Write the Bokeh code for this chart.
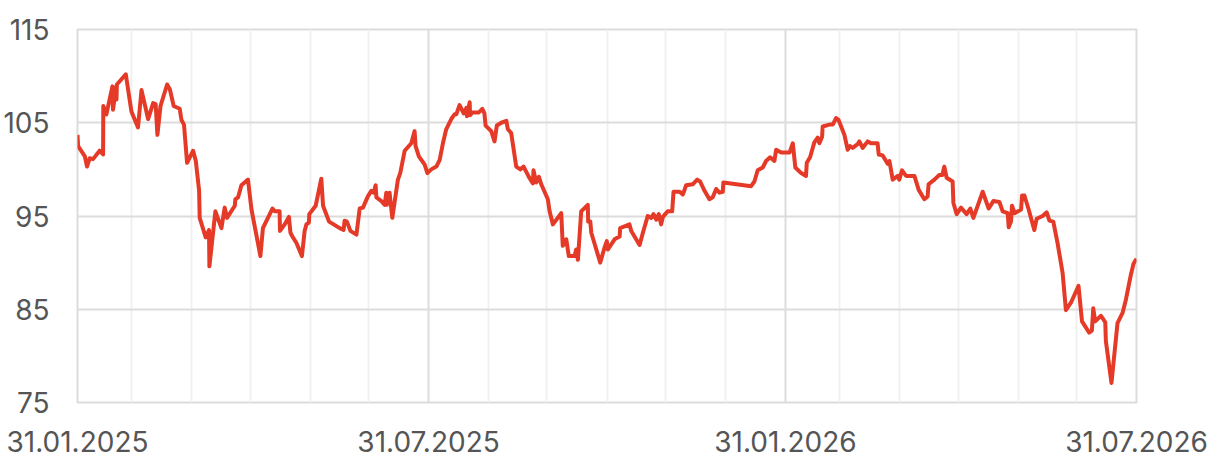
import pandas as pd
from bokeh.plotting import figure
from bokeh.models import Range1d, FixedTicker, DatetimeTickFormatter
from bokeh.embed import file_html
from bokeh.resources import INLINE

START = "2025-01-31"
END = "2026-07-31"

day_offsets = [
    0, 0.3, 3.8, 4.9, 6.3, 8.0, 11.4, 13.2, 13.3, 14.9, 18.0, 18.3, 20.0, 20.1, 20.3, 24.9,
    27.8, 31.2, 33.0, 36.4, 39.0, 40.3, 41.2, 42.8, 46.2, 47.6, 49.6, 52.7, 53.6, 54.9, 56.5,
    59.6, 61.0, 62.7, 63.0, 66.1, 67.8, 68.0, 71.1, 74.2, 75.9, 77.1, 81.1, 81.4, 82.8, 84.5,
    87.9, 89.7, 94.3, 95.6, 100.5, 101.7, 104.2, 104.4, 106.8, 109.0, 109.8, 110.8, 112.9,
    115.7, 117.1, 118.0, 119.3, 119.5, 122.8, 125.7, 126.6, 129.7, 135.2, 137.2, 137.7,
    138.9, 140.7, 143.8, 145.5, 147.2, 149.7, 151.5, 152.7, 153.7, 154.1, 156.7, 158.4,
    159.2, 159.5, 160.9, 162.3, 165.2, 166.4, 168.7, 172.1, 173.8, 174.3, 176.0, 179.0,
    180.4, 182.4, 185.0, 186.7, 188.4, 190.1, 192.7, 194.4, 195.3, 197.0, 199.1, 200.5,
    200.8, 202.2, 202.4, 203.5, 206.9, 208.7, 209.8, 210.4, 213.3, 215.0, 216.2, 218.5,
    221.1, 221.9, 223.6, 226.2, 228.3, 230.0, 232.7, 234.8, 235.1, 236.5, 237.9, 239.1,
    242.5, 243.4, 245.1, 249.4, 250.2, 252.0, 253.3, 256.3, 257.1, 258.0, 259.7, 263.1,
    263.3, 264.4, 264.9, 269.5, 271.7, 272.9, 273.4, 276.9, 279.5, 279.8, 284.6, 285.5,
    289.8, 291.5, 294.0, 295.8, 297.0, 298.4, 299.7, 300.9, 301.8, 304.3, 306.6, 307.3,
    310.4, 312.1, 313.8, 317.2, 319.5, 321.0, 323.3, 325.8, 327.5, 329.3, 331.0, 332.7,
    333.0, 347.3, 349.0, 350.7, 353.3, 355.0, 357.1, 359.3, 360.2, 362.8, 367.1, 368.8,
    370.1, 373.1, 375.6, 376.0, 377.7, 379.9, 381.6, 382.5, 383.9, 384.2, 387.7, 389.4,
    391.1, 392.4, 395.4, 397.1, 398.3, 399.7, 402.2, 403.1, 404.8, 407.4, 409.1, 412.5,
    413.1, 415.1, 417.7, 418.6, 420.3, 422.9, 423.7, 425.1, 427.2, 431.5, 433.7, 436.6,
    438.3, 438.8, 441.8, 444.3, 445.9, 446.9, 448.1, 451.2, 451.6, 453.3, 455.5, 458.4,
    460.3, 461.9, 466.7, 469.8, 472.2, 475.3, 477.0, 479.6, 480.1, 481.3, 481.8, 483.2,
    486.5, 487.0, 488.2, 490.4, 493.3, 494.5, 497.6, 499.7, 501.1, 503.1, 505.3, 507.9,
    509.6, 512.2, 514.8, 516.1, 517.9, 521.6, 523.0, 523.7, 524.7, 527.7, 529.9, 530.2,
    533.1, 536.2, 538.8, 540.5, 543.1, 544.5, 546.0,
]

values = [
    103.7, 102.5, 101.4, 100.3, 101.2, 101.1, 102.0, 101.6, 106.8, 105.9, 108.9, 106.4, 108.9, 107.5, 109.1, 110.2,
    106.2, 104.5, 108.5, 105.4, 107.1, 107.0, 103.7, 106.8, 109.1, 108.6, 106.8, 106.5, 105.3, 104.8, 100.7,
    102.0, 100.9, 97.7, 94.8, 92.7, 93.5, 89.6, 95.5, 93.7, 95.9, 94.8, 96.1, 96.8, 97.0, 98.3,
    98.9, 95.7, 90.7, 93.7, 95.8, 95.5, 95.5, 93.4, 94.1, 94.9, 93.2, 92.8, 92.1,
    90.7, 93.4, 94.1, 94.3, 95.2, 96.1, 99.0, 96.1, 94.4, 93.7, 93.5, 94.5,
    94.4, 93.4, 93.0, 95.8, 95.9, 97.1, 97.7, 97.5, 98.3, 97.0, 96.6, 96.2,
    97.5, 96.2, 97.5, 94.8, 98.9, 99.6, 102.0, 102.8, 104.1, 102.5, 101.4, 100.5,
    99.6, 100.0, 100.3, 101.0, 102.8, 104.3, 105.4, 105.9, 105.9, 106.9, 106.0, 106.6,
    105.7, 107.2, 105.8, 106.1, 106.1, 106.5, 106.0, 104.7, 104.1, 103.0, 104.7, 105.0,
    105.2, 104.3, 103.9, 100.3, 100.0, 100.3, 99.2, 98.5, 99.9, 98.6, 99.2, 98.4,
    96.8, 95.5, 94.1, 95.3, 91.8, 92.5, 90.7, 90.7, 91.4, 90.3, 95.5, 96.2,
    94.4, 94.4, 93.2, 90.0, 91.6, 92.3, 91.4, 92.5, 92.8, 93.7, 94.1, 93.4,
    91.9, 93.2, 95.0, 94.8, 95.2, 94.6, 95.2, 94.1, 94.9, 95.5, 95.5, 97.6,
    97.6, 97.3, 98.3, 98.4, 98.9, 98.7, 97.7, 96.8, 97.0, 97.9, 97.5, 97.6,
    98.6, 98.2, 98.7, 99.9, 100.2, 100.9, 101.3, 100.9, 102.1, 101.8, 101.8, 102.8,
    100.2, 99.6, 99.3, 100.7, 101.3, 102.9, 103.4, 102.8, 103.5, 104.6, 104.8, 104.8,
    105.5, 105.3, 103.7, 102.1, 102.5, 102.3, 102.7, 103.0, 102.3, 103.0, 102.8, 102.8,
    101.6, 101.5, 100.6, 100.9, 98.9, 99.3, 98.9, 99.9, 99.3, 99.3, 97.8, 96.8,
    97.1, 98.4, 98.9, 99.4, 99.4, 100.3, 99.1, 98.7, 96.4, 95.2, 95.9, 95.2,
    95.8, 94.8, 97.6, 95.8, 96.6, 96.5, 95.5, 95.3, 93.8, 94.4, 96.1, 95.3,
    95.7, 97.2, 97.2, 95.7, 93.5, 94.7, 95.0, 95.4, 94.5, 94.4, 92.1, 88.9,
    84.9, 85.7, 86.9, 87.5, 83.7, 82.5, 82.7, 85.1, 83.7, 84.3, 83.6, 81.6,
    77.1, 83.5, 84.6, 86.0, 88.7, 89.9, 90.4,
]

major_dates = ["2025-01-31", "2025-07-31", "2026-01-31", "2026-07-31"]
minor_dates = [
    "2025-02-28", "2025-03-31", "2025-04-30", "2025-05-31", "2025-06-30",
    "2025-08-31", "2025-09-30", "2025-10-31", "2025-11-30", "2025-12-31",
    "2026-02-28", "2026-03-31", "2026-04-30", "2026-05-31", "2026-06-30",
]
y_ticks = [75, 85, 95, 105, 115]

start = pd.Timestamp(START)
x = [start + pd.Timedelta(days=d) for d in day_offsets]

def ms(s):
    return pd.Timestamp(s).value / 1e6

p = figure(
    frame_width=1059, frame_height=373, x_axis_type="datetime",
    output_backend="svg", toolbar_location=None,
    x_range=Range1d(pd.Timestamp(START), pd.Timestamp(END)),
    y_range=Range1d(75, 115),
    min_border_left=72, min_border_top=29, min_border_right=73, min_border_bottom=56,
)
p.background_fill_color = "white"
p.border_fill_color = "white"
p.outline_line_color = "#dcdcdc"
p.outline_line_width = 2

p.xaxis.ticker = FixedTicker(ticks=[ms(d) for d in major_dates],
                             minor_ticks=[ms(d) for d in minor_dates])
p.xaxis.formatter = DatetimeTickFormatter(
    milliseconds="%d.%m.%Y", seconds="%d.%m.%Y", minsec="%d.%m.%Y", minutes="%d.%m.%Y",
    hourmin="%d.%m.%Y", hours="%d.%m.%Y", days="%d.%m.%Y", months="%d.%m.%Y", years="%d.%m.%Y")
p.yaxis.ticker = FixedTicker(ticks=y_ticks)

for ax in (p.xaxis, p.yaxis):
    ax.axis_line_color = None
    ax.major_tick_line_color = None
    ax.minor_tick_line_color = None
    ax.major_tick_out = 0
    ax.minor_tick_out = 0
    ax.major_label_text_font = "Inter"
    ax.major_label_text_font_size = "28px"
    ax.major_label_text_color = "#555555"
p.xaxis.major_label_standoff = 28
p.yaxis.major_label_standoff = 28

p.xgrid.grid_line_color = "#dcdcdc"
p.xgrid.grid_line_width = 2
p.xgrid.minor_grid_line_color = "#f0f0f0"
p.xgrid.minor_grid_line_width = 2
p.ygrid.grid_line_color = "#dcdcdc"
p.ygrid.grid_line_width = 2

p.line(x, values, line_color="#E53A27", line_width=4, line_join="round")

open("out.html", "w").write(file_html(p, INLINE))
